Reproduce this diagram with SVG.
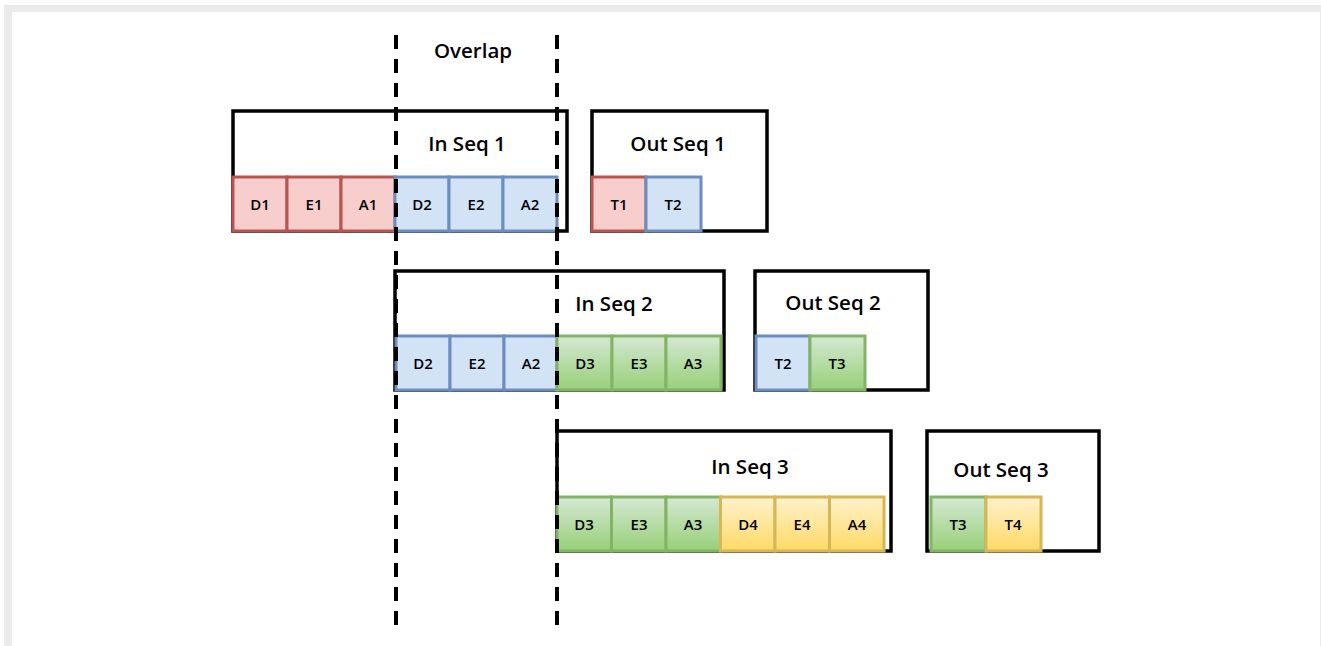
<svg xmlns="http://www.w3.org/2000/svg" width="1321" height="646" viewBox="0 0 1321 646">
<defs>
<linearGradient id="gG" x1="0" y1="0" x2="0" y2="1"><stop offset="0" stop-color="#d5e8d4"/><stop offset="1" stop-color="#97d077"/></linearGradient>
<linearGradient id="gY" x1="0" y1="0" x2="0" y2="1"><stop offset="0" stop-color="#fff2cc"/><stop offset="1" stop-color="#ffd966"/></linearGradient>
</defs>
<style>
.box{fill:#fff;stroke:#000;stroke-width:3.5}
.r{fill:#f8cecc;stroke:#b85450;stroke-width:3}
.b{fill:#d3e3f6;stroke:#6c8ebf;stroke-width:3}
.g{fill:url(#gG);stroke:#82b366;stroke-width:3}
.y{fill:url(#gY);stroke:#d6b656;stroke-width:3}
.t{font-family:"Open Sans","Liberation Sans",sans-serif;font-weight:600;font-size:15px;fill:#000;text-anchor:middle}
.h{font-family:"Open Sans","Liberation Sans",sans-serif;font-weight:600;font-size:20.5px;fill:#000;text-anchor:middle}
.dash{stroke:#000;stroke-width:4;stroke-dasharray:14 10;fill:none}
</style>
<rect x="4" y="5" width="1317" height="641" fill="#ebebeb"/>
<rect x="12" y="12" width="1308" height="634" fill="#fff"/>

<g id="inseq1">
<rect class="box" x="233" y="111" width="334" height="120"/>
<text class="h" x="467" y="151">In Seq 1</text>
<rect class="r" x="233" y="177" width="54" height="54"/><text class="t" x="260" y="210">D1</text>
<rect class="r" x="287" y="177" width="54" height="54"/><text class="t" x="314" y="210">E1</text>
<rect class="r" x="341" y="177" width="54" height="54"/><text class="t" x="368" y="210">A1</text>
<rect class="b" x="395" y="177" width="54" height="54"/><text class="t" x="422" y="210">D2</text>
<rect class="b" x="449" y="177" width="54" height="54"/><text class="t" x="476" y="210">E2</text>
<rect class="b" x="503" y="177" width="54" height="54"/><text class="t" x="530" y="210">A2</text>
</g>
<g id="outseq1">
<rect class="box" x="592" y="111" width="175" height="120"/>
<text class="h" x="678" y="151">Out Seq 1</text>
<rect class="r" x="592" y="177" width="54" height="54"/><text class="t" x="619" y="210">T1</text>
<rect class="b" x="646" y="177" width="55" height="54"/><text class="t" x="673" y="210">T2</text>
</g>

<g id="inseq2">
<rect class="box" x="395" y="271" width="329" height="119"/>
<text class="h" x="614" y="311">In Seq 2</text>
<rect class="b" x="396" y="336" width="54" height="54"/><text class="t" x="423" y="369">D2</text>
<rect class="b" x="450" y="336" width="54" height="54"/><text class="t" x="477" y="369">E2</text>
<rect class="b" x="504" y="336" width="53" height="54"/><text class="t" x="531" y="369">A2</text>
<rect class="g" x="557" y="336" width="55" height="54"/><text class="t" x="585" y="369">D3</text>
<rect class="g" x="612" y="336" width="54" height="54"/><text class="t" x="639" y="369">E3</text>
<rect class="g" x="666" y="336" width="55" height="54"/><text class="t" x="693" y="369">A3</text>
</g>
<g id="outseq2">
<rect class="box" x="755" y="271" width="173" height="119"/>
<text class="h" x="833" y="310">Out Seq 2</text>
<rect class="b" x="756" y="336" width="54" height="54"/><text class="t" x="783" y="369">T2</text>
<rect class="g" x="810" y="336" width="55" height="54"/><text class="t" x="837" y="369">T3</text>
</g>

<g id="inseq3">
<rect class="box" x="557" y="431" width="334" height="120"/>
<text class="h" x="750" y="474">In Seq 3</text>
<rect class="g" x="557" y="497" width="54.5" height="54"/><text class="t" x="584" y="530">D3</text>
<rect class="g" x="611.5" y="497" width="54.5" height="54"/><text class="t" x="639" y="530">E3</text>
<rect class="g" x="666" y="497" width="54.5" height="54"/><text class="t" x="693" y="530">A3</text>
<rect class="y" x="720.5" y="497" width="54.5" height="54"/><text class="t" x="748" y="530">D4</text>
<rect class="y" x="775" y="497" width="54.5" height="54"/><text class="t" x="802" y="530">E4</text>
<rect class="y" x="829.5" y="497" width="54.5" height="54"/><text class="t" x="857" y="530">A4</text>
</g>
<g id="outseq3">
<rect class="box" x="927" y="431" width="172" height="120"/>
<text class="h" x="1001" y="477">Out Seq 3</text>
<rect class="g" x="931" y="497" width="55" height="54"/><text class="t" x="958" y="530">T3</text>
<rect class="y" x="986" y="497" width="55" height="54"/><text class="t" x="1013" y="530">T4</text>
</g>

<g id="connectors">
<line class="dash" x1="396" y1="35" x2="396" y2="625"/>
<line class="dash" x1="557" y1="35" x2="557" y2="625"/>
<text class="h" x="473" y="58">Overlap</text>
</g>
</svg>
